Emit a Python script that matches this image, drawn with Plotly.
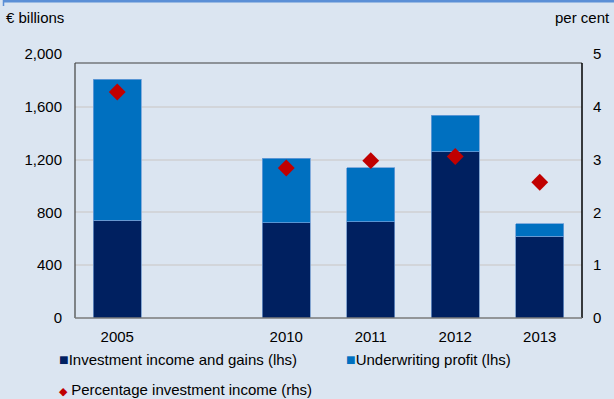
import plotly.graph_objects as go

# Insurance income components (EUR billions) and investment income ratio (per cent)
categories = ["2005", "", "2010", "2011", "2012", "2013"]
investment_income = [740, None, 720, 730, 1260, 620]
underwriting_profit = [1070, None, 490, 410, 275, 95]
investment_pct = [4.28, None, 2.84, 2.98, 3.06, 2.57]

left_ticks = [0, 400, 800, 1200, 1600, 2000]
left_ticktext = ["0", "400", "800", "1,200", "1,600", "2,000"]
right_ticks = [0, 1, 2, 3, 4, 5]

DARK = "#002060"
MID = "#0070c0"
RED = "#c00000"
BG = "#dbe5f1"
FONT = "Arial, Liberation Sans, sans-serif"
FS = 15

W, H = 614, 399
ML, MR, MT, MB = 75, 32, 54, 81
PW, PH = W - ML - MR, H - MT - MB


def px(xp):
    return (xp - ML) / PW


def py(yp):
    return (H - MB - yp) / PH


x = list(range(len(categories)))

fig = go.Figure()
fig.add_trace(go.Bar(
    x=x, y=investment_income, name="Investment income and gains (lhs)",
    marker=dict(color=DARK, line=dict(color="#6d93c8", width=0.8)),
    width=0.57, showlegend=False,
))
fig.add_trace(go.Bar(
    x=x, y=underwriting_profit, name="Underwriting profit (lhs)",
    marker=dict(color=MID, line=dict(color="#6d9fd8", width=0.8)),
    width=0.57, showlegend=False,
))
fig.add_trace(go.Scatter(
    x=x, y=investment_pct, name="Percentage investment income (rhs)",
    mode="markers", yaxis="y2",
    marker=dict(symbol="diamond", size=13, color=RED),
    showlegend=False,
))

fig.update_layout(
    width=W, height=H,
    margin=dict(l=ML, r=MR, t=MT, b=MB, pad=0),
    paper_bgcolor=BG, plot_bgcolor=BG,
    barmode="stack",
    font=dict(family=FONT, size=FS, color="#000000"),
    xaxis=dict(
        range=[-0.5, len(categories) - 0.5],
        tickvals=x, ticktext=categories,
        showgrid=False, zeroline=False, showline=False,
        ticks="", ticklabelstandoff=8,
        tickfont=dict(size=FS),
    ),
    yaxis=dict(
        range=[0, 2000], tickvals=left_ticks, ticktext=left_ticktext,
        showgrid=False, zeroline=False, showline=False,
        ticks="", ticklabelstandoff=12,
        minor=dict(tickvals=left_ticks[1:-1], showgrid=True,
                   gridcolor="#d2d5da", gridwidth=1.6),
        tickfont=dict(size=FS),
    ),
    yaxis2=dict(
        range=[0, 5], tickvals=right_ticks, overlaying="y", side="right",
        showgrid=False, zeroline=False, showline=False,
        ticks="", ticklabelstandoff=10,
        tickfont=dict(size=FS),
    ),
)

# Plot frame: top edge sits a little below the 2,000 level
top = py(63)
fig.add_shape(type="line", xref="paper", yref="paper", x0=0, x1=1, y0=top, y1=top,
              line=dict(color="#404040", width=1.2))
fig.add_shape(type="line", xref="paper", yref="paper", x0=0, x1=0, y0=0, y1=top,
              line=dict(color="#404040", width=1.2))
fig.add_shape(type="line", xref="paper", yref="paper", x0=1, x1=1, y0=0, y1=top,
              line=dict(color="#000000", width=1.5))
fig.add_shape(type="line", xref="paper", yref="paper", x0=0, x1=1, y0=0, y1=0,
              line=dict(color="#7a7a7a", width=1.5))

# Blue border along the top of the panel
fig.add_shape(type="line", xref="paper", yref="paper", x0=px(3), x1=px(W), y0=py(1), y1=py(1),
              line=dict(color="#5b8fd6", width=3))
fig.add_shape(type="line", xref="paper", yref="paper", x0=px(3.5), x1=px(3.5), y0=py(0), y1=py(6),
              line=dict(color="#5b8fd6", width=1.5))

# Axis unit labels
fig.add_annotation(text="€ billions", xref="paper", yref="paper", x=px(4), y=py(18),
                   xanchor="left", yanchor="middle", showarrow=False, font=dict(size=FS))
fig.add_annotation(text="per cent", xref="paper", yref="paper", x=px(612), y=py(18),
                   xanchor="right", yanchor="middle", showarrow=False, font=dict(size=FS))

# Legend
legend_items = [
    (f'<span style="color:{DARK};font-size:16px">■</span>Investment income and gains (lhs)', 57, 359),
    (f'<span style="color:{MID};font-size:16px">■</span>Underwriting profit (lhs)', 344, 359),
    (f'<span style="color:{RED};font-size:11px">◆</span> Percentage investment income (rhs)', 57, 389),
]
for text, lx, ly in legend_items:
    fig.add_annotation(text=text, xref="paper", yref="paper", x=px(lx), y=py(ly),
                       xanchor="left", yanchor="middle", showarrow=False,
                       font=dict(size=FS))

fig.write_html("out.html")
